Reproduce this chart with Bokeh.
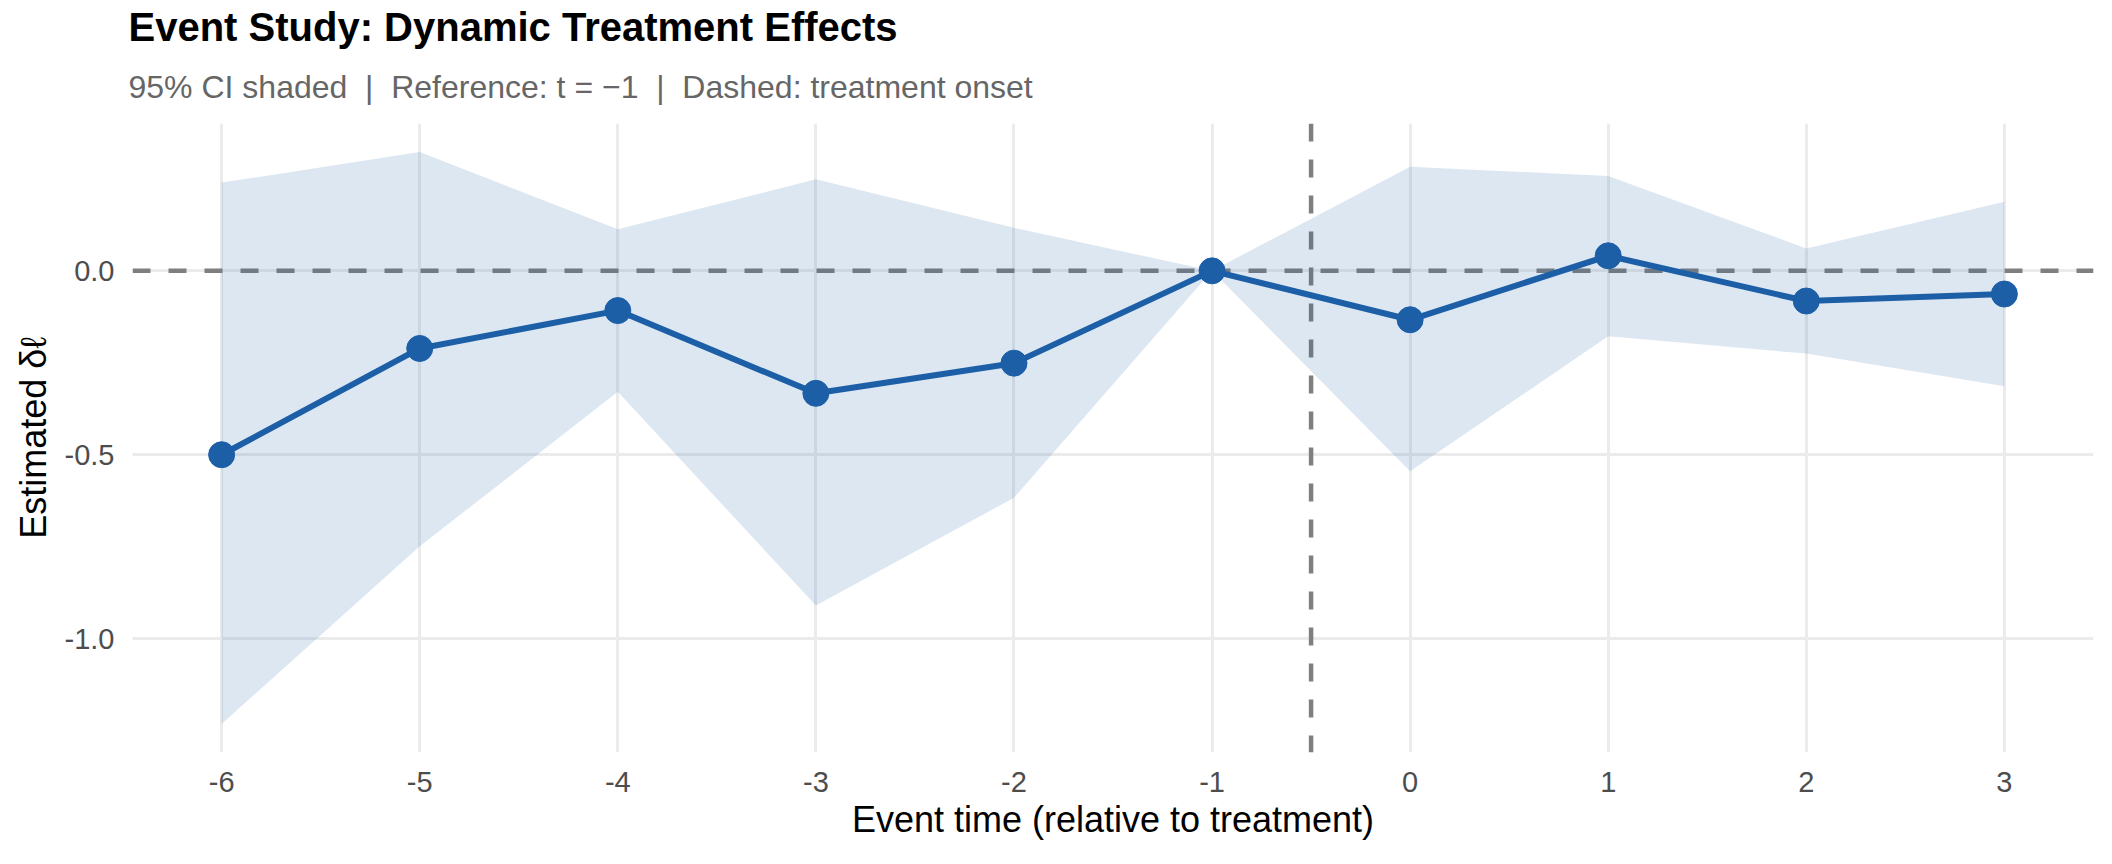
from bokeh.plotting import figure
from bokeh.models import (Range1d, FixedTicker, PrintfTickFormatter, Span, Title,
                          ColumnDataSource)
from bokeh.embed import file_html
from bokeh.resources import INLINE

# ---- data ----
event_time = [-6, -5, -4, -3, -2, -1, 0, 1, 2, 3]
estimate = [-0.500, -0.211, -0.108, -0.333, -0.251, 0.000, -0.133, 0.041, -0.082, -0.063]
ci_lower = [-1.232, -0.749, -0.329, -0.910, -0.617, 0.000, -0.545, -0.178, -0.225, -0.314]
ci_upper = [0.240, 0.323, 0.113, 0.249, 0.117, 0.000, 0.283, 0.258, 0.061, 0.188]
x_ticks = [-6, -5, -4, -3, -2, -1, 0, 1, 2, 3]
y_ticks = [-1.0, -0.5, 0.0]
onset = -0.5
reference_y = 0.0

NB = "\u00a0"
SEP = " " + NB + "|" + NB + " "
title_text = "Event Study: Dynamic Treatment Effects"
subtitle_text = ("95% CI shaded" + SEP + "Reference: t = \u22121" + SEP +
                 "Dashed: treatment onset")
x_label = "Event time (relative to treatment)"
y_label = "Estimated \u03b4\u2113"

FONT = "Liberation Sans"
BLUE = "#1c5fa7"

# ggplot-like 5% expansion
xmin, xmax = min(event_time), max(event_time)
ymin, ymax = min(ci_lower), max(ci_upper)
xpad = 0.05 * (xmax - xmin)
ypad = 0.05 * (ymax - ymin)

src = ColumnDataSource(dict(t=event_time, est=estimate, lo=ci_lower, hi=ci_upper))

p = figure(width=2112, height=864, output_backend="svg", toolbar_location=None,
           title=None,
           x_range=Range1d(xmin - xpad, xmax + xpad),
           y_range=Range1d(ymin - ypad, ymax + ypad),
           min_border_left=132, min_border_right=19,
           min_border_top=123, min_border_bottom=112,
           background_fill_color="white", border_fill_color="white")
p.outline_line_color = None

# grid
for g in (p.xgrid, p.ygrid):
    g.grid_line_color = "#ebebeb"
    g.grid_line_width = 3
    g.minor_grid_line_color = None

# axes
p.xaxis.ticker = FixedTicker(ticks=x_ticks)
p.yaxis.ticker = FixedTicker(ticks=y_ticks)
p.xaxis.formatter = PrintfTickFormatter(format="%d")
p.yaxis.formatter = PrintfTickFormatter(format="%.1f")
for ax in (p.xaxis, p.yaxis):
    ax.axis_line_color = None
    ax.major_tick_line_color = None
    ax.minor_tick_line_color = None
    ax.major_tick_out = 0
    ax.major_tick_in = 0
    ax.minor_tick_out = 0
    ax.major_label_text_font = FONT
    ax.major_label_text_font_size = "29px"
    ax.major_label_text_color = "#4d4d4d"
    ax.axis_label_text_font = FONT
    ax.axis_label_text_font_size = "36px"
    ax.axis_label_text_font_style = "normal"
    ax.axis_label_text_color = "black"
p.xaxis.axis_label = x_label
p.yaxis.axis_label = y_label
p.xaxis.major_label_standoff = 19
p.xaxis.axis_label_standoff = 4
p.yaxis.major_label_standoff = 18
p.yaxis.axis_label_standoff = 8

# reference lines (under the ribbon)
p.add_layout(Span(location=reference_y, dimension="width", line_color="#7f7f7f",
                  line_width=4.5, line_dash="18 18", level="underlay"))
p.add_layout(Span(location=onset, dimension="height", line_color="#7f7f7f",
                  line_width=4.5, line_dash="18 18", level="underlay"))

# ribbon, line, points
p.varea(x="t", y1="lo", y2="hi", source=src, fill_color=BLUE, fill_alpha=0.15)
p.line(x="t", y="est", source=src, line_color=BLUE, line_width=6)
p.scatter(x="t", y="est", source=src, size=26, fill_color=BLUE, line_color=BLUE)

# subtitle (closest to the frame) and title (on top)
p.add_layout(Title(text=subtitle_text, align="left", text_font=FONT,
                   text_font_size="32px", text_font_style="normal",
                   text_color="#666666", standoff=37, offset=-4), "above")
p.add_layout(Title(text=title_text, align="left", text_font=FONT,
                   text_font_size="40px", text_font_style="bold",
                   text_color="black", standoff=0, offset=-4), "above")

open("out.html", "w").write(file_html(p, INLINE))
